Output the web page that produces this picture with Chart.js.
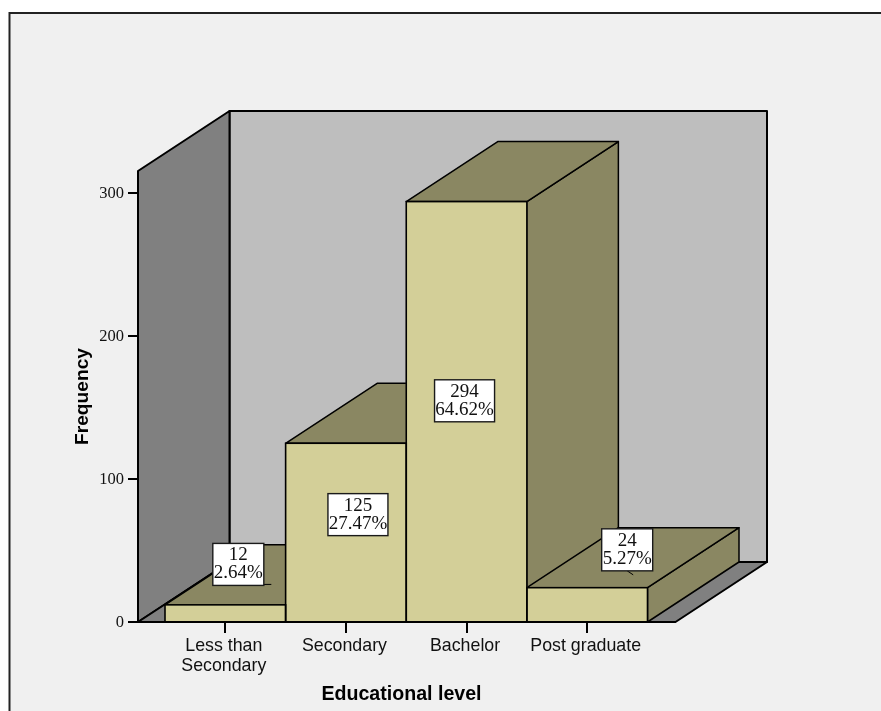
<!DOCTYPE html>
<html>
<head>
<meta charset="utf-8">
<style>
  html, body { margin: 0; padding: 0; background: #fff; }
  canvas { display: block; }
</style>
<script src="https://cdn.jsdelivr.net/npm/chart.js@4"></script>
</head>
<body>
<canvas id="chart" width="881" height="711"></canvas>
<script>
// Educational level frequencies
const categories = [['Less than', 'Secondary'], 'Secondary', 'Bachelor', 'Post graduate'];
const frequencies = [12, 125, 294, 24];
const percentLabels = ['2.64%', '27.47%', '64.62%', '5.27%'];
const yTicks = [0, 100, 200, 300];
const yAxisTitle = 'Frequency';
const xAxisTitle = 'Educational level';

// Where each value box sits relative to its bar's front face centre
const boxOffsets = [[13, -49], [12, -18], [-2, -11], [40, -55]];
const boxWidths = [51, 60, 60, 51];
const boxHeight = 42;
// Short leader lines from a box towards its bar: [fromX, fromY, toX, toY] relative to box centre
const leaders = [[25, 20, 33, 20], null, null, [0, 21, 6, 25]];

// Oblique projection of the 3D box
const depthX = 91.5;
const depthY = 60;
const wallPadLeft = 27;
const wallPadRight = 28;

const colors = {
  page: '#ffffff',
  panel: '#f0f0f0',
  frame: '#222222',
  backWall: '#bebebe',
  sideWall: '#808080',
  front: '#d3cf98',
  shade: '#8a8762',
  line: '#000000'
};

function poly(ctx, pts, fill, width) {
  ctx.beginPath();
  pts.forEach((p, i) => i ? ctx.lineTo(p[0], p[1]) : ctx.moveTo(p[0], p[1]));
  ctx.closePath();
  ctx.fillStyle = fill;
  ctx.fill();
  ctx.lineWidth = width;
  ctx.lineJoin = 'round';
  ctx.strokeStyle = colors.line;
  ctx.stroke();
}

// Panel runs off the right and bottom of the page, so only its top and left edges show
const panelPlugin = {
  id: 'panel',
  beforeDraw(chart) {
    const { ctx, width, height } = chart;
    ctx.save();
    ctx.fillStyle = colors.page;
    ctx.fillRect(0, 0, width, height);
    ctx.fillStyle = colors.panel;
    ctx.fillRect(9.5, 13, width, height);
    ctx.strokeStyle = colors.frame;
    ctx.lineWidth = 2;
    ctx.beginPath();
    ctx.moveTo(9.5, height);
    ctx.lineTo(9.5, 13);
    ctx.lineTo(width, 13);
    ctx.stroke();
    ctx.restore();
  }
};

const boxPlugin = {
  id: 'box3d',
  // Walls and floor sit above the grid ticks, bar depth faces sit under the bar fronts
  beforeDatasetsDraw(chart) {
    const { ctx, chartArea, scales } = chart;
    const y = scales.y;
    const base = y.getPixelForValue(0);
    const top = y.getPixelForValue(y.max);
    const l = chartArea.left - wallPadLeft;
    const r = chartArea.right + wallPadRight;
    ctx.save();
    poly(ctx, [[l + depthX, top - depthY], [r + depthX, top - depthY], [r + depthX, base - depthY], [l + depthX, base - depthY]], colors.backWall, 2);
    poly(ctx, [[l, top], [l + depthX, top - depthY], [l + depthX, base - depthY], [l, base]], colors.sideWall, 2);
    poly(ctx, [[l, base], [l + depthX, base - depthY], [r + depthX, base - depthY], [r, base]], colors.sideWall, 2);

    chart.getDatasetMeta(0).data.forEach((bar) => {
      const half = bar.width / 2;
      const x0 = bar.x - half;
      const x1 = bar.x + half;
      const yt = bar.y;
      poly(ctx, [[x1, yt], [x1 + depthX, yt - depthY], [x1 + depthX, base - depthY], [x1, base]], colors.shade, 1.5);
      poly(ctx, [[x0, yt], [x0 + depthX, yt - depthY], [x1 + depthX, yt - depthY], [x1, yt]], colors.shade, 1.5);
    });
    ctx.restore();
  },
  afterDatasetsDraw(chart) {
    const { ctx, chartArea, scales } = chart;
    const base = scales.y.getPixelForValue(0);
    ctx.save();

    // Outline of each bar front, shared with its neighbour
    const meta = chart.getDatasetMeta(0);
    ctx.strokeStyle = colors.line;
    ctx.lineWidth = 1.6;
    meta.data.forEach((bar) => {
      ctx.strokeRect(bar.x - bar.width / 2, bar.y, bar.width, base - bar.y);
    });

    // Front edge of the floor
    ctx.lineWidth = 2;
    ctx.beginPath();
    ctx.moveTo(chartArea.left - wallPadLeft, base);
    ctx.lineTo(chartArea.right + wallPadRight, base);
    ctx.stroke();

    // Value and percentage boxes
    meta.data.forEach((bar, i) => {
      const cx = bar.x + boxOffsets[i][0];
      const cy = (bar.y + base) / 2 + boxOffsets[i][1];
      const w = boxWidths[i];
      if (leaders[i]) {
        const [a, b, c, d] = leaders[i];
        ctx.lineWidth = 1;
        ctx.beginPath();
        ctx.moveTo(cx + a, cy + b);
        ctx.lineTo(cx + c, cy + d);
        ctx.stroke();
      }
      ctx.fillStyle = '#ffffff';
      ctx.fillRect(cx - w / 2, cy - boxHeight / 2, w, boxHeight);
      ctx.lineWidth = 1.4;
      ctx.strokeStyle = '#1a1a1a';
      ctx.strokeRect(cx - w / 2, cy - boxHeight / 2, w, boxHeight);
      ctx.strokeStyle = colors.line;
      ctx.fillStyle = '#111111';
      ctx.font = '19px "Liberation Serif"';
      ctx.textAlign = 'center';
      ctx.textBaseline = 'middle';
      ctx.fillText(String(frequencies[i]), cx, cy - 9);
      ctx.fillText(percentLabels[i], cx, cy + 9);
    });

    // Category axis title, centred under the whole floor
    ctx.fillStyle = '#000000';
    ctx.font = 'bold 19.6px "Liberation Sans"';
    ctx.textAlign = 'center';
    ctx.textBaseline = 'middle';
    ctx.fillText(xAxisTitle, 401.5, 695);
    ctx.restore();
  }
};

new Chart(document.getElementById('chart'), {
  type: 'bar',
  data: {
    labels: categories,
    datasets: [{
      data: frequencies,
      backgroundColor: colors.front,
      borderWidth: 0,
      categoryPercentage: 1,
      barPercentage: 1
    }]
  },
  plugins: [panelPlugin, boxPlugin],
  options: {
    responsive: false,
    animation: false,
    layout: { padding: { top: 171, right: 233.5, left: 0, bottom: 0 } },
    plugins: { legend: { display: false }, tooltip: { enabled: false } },
    scales: {
      x: {
        offset: true,
        afterFit(scale) { scale.height = 89; },
        border: { display: false },
        grid: { drawOnChartArea: false, drawTicks: true, tickLength: 11, color: '#000000', lineWidth: 2, offset: false },
        ticks: {
          color: '#111111',
          font: { family: '"Liberation Sans"', size: 17.8, lineHeight: 1.12 },
          maxRotation: 0,
          autoSkip: false,
          padding: 3,
          labelOffset: -1.5
        }
      },
      y: {
        min: 0,
        max: 315.4,
        afterFit(scale) { scale.width = 165; },
        afterBuildTicks(scale) { scale.ticks = yTicks.map((value) => ({ value })); },
        border: { display: false },
        grid: { drawOnChartArea: false, drawTicks: true, tickLength: 37, color: '#000000', lineWidth: 2 },
        ticks: {
          color: '#111111',
          font: { family: '"Liberation Serif"', size: 16.5 },
          padding: 4,
          labelOffset: 1
        },
        title: {
          display: true,
          text: yAxisTitle,
          color: '#000000',
          font: { family: '"Liberation Sans"', size: 19.2, weight: 'bold' },
          padding: { top: 71, bottom: 0 }
        }
      }
    }
  }
});
</script>
</body>
</html>
